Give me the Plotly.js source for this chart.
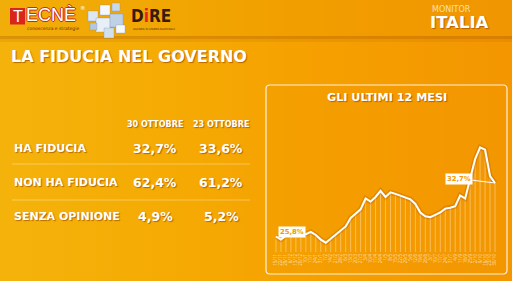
<!DOCTYPE html>
<html>
<head>
<meta charset="utf-8">
<script src="https://cdn.plot.ly/plotly-3.0.1.min.js"></script>
<style>
html,body{margin:0;padding:0;}
body{width:512px;height:281px;overflow:hidden;
background:linear-gradient(90deg,#F4B30B 0%,#F5AA03 35%,#F59F00 65%,#F39600 100%);}
#chart{width:512px;height:281px;}
</style>
</head>
<body>
<div id="chart"></div>
<script>
// ---- data ----
const rowLabels = ['HA FIDUCIA', 'NON HA FIDUCIA', 'SENZA OPINIONE'];
const colLabels = ['30 OTTOBRE', '23 OTTOBRE'];
const val30 = [32.7, 62.4, 4.9];
const val23 = [33.6, 61.2, 5.2];

const weekLabels = ['15/11','22/11','29/11','6/12','13/12','20/12','10/1','17/1','24/1','31/1',
  '7/2','14/2','21/2','28/2','6/3','13/3','20/3','27/3','3/4','10/4','17/4','24/4','1/5','8/5',
  '15/5','22/5','29/5','5/6','12/6','19/6','26/6','3/7','10/7','17/7','24/7','31/7','4/9','11/9',
  '18/9','25/9','2/10','9/10','16/10','23/10','30/10'];
const trust = [25.8,25.4,25.9,26.2,26.2,26.1,26.1,26.4,26.0,25.4,25.0,25.5,26.1,26.5,27.1,28.2,
  28.8,29.3,30.7,30.3,30.9,31.7,30.9,31.5,31.3,31.1,30.9,30.6,30.0,28.9,28.4,28.3,28.6,28.9,
  29.4,29.5,29.7,31.1,30.7,33.1,35.8,37.3,37.0,33.6,32.7];

// ---- helpers ----
const W = 512, H = 281;
const px = x => x / W;
const py = y => 1 - y / H;
const fmt = v => v.toFixed(1).replace('.', ',') + '%';
const FONT = 'DejaVu Sans, Open Sans, sans-serif';
const SHADOW = '1px 1px 1px rgba(140,60,0,0.6)';

const idx = trust.map((_, i) => i);
const yMin = 23.8, yMax = 38.25;

// drop lines
const dx = [], dy = [];
idx.forEach(i => { dx.push(i, i, null); dy.push(yMin, trust[i], null); });

const traces = [
  {x: dx, y: dy, mode: 'lines', type: 'scatter', hoverinfo: 'skip',
   line: {color: 'rgba(255,255,255,0.45)', width: 0.8}},
  {x: idx, y: trust, mode: 'lines', type: 'scatter', hoverinfo: 'skip',
   line: {color: 'rgba(150,70,0,0.22)', width: 5}},
  {x: idx, y: trust, mode: 'lines', type: 'scatter', hoverinfo: 'skip',
   line: {color: '#FFFFFF', width: 2}}
];

const ann = [];
function A(text, x, y, o) {
  o = o || {};
  ann.push(Object.assign({
    text: text, xref: 'paper', yref: 'paper', x: px(x), y: py(y),
    xanchor: o.xa || 'left', yanchor: 'middle', showarrow: false,
    font: {family: o.family || FONT, size: o.size || 10, color: o.color || '#FFFFFF',
           weight: o.weight || 700, shadow: o.shadow || 'none'}
  }, o.extra || {}));
}

// header logos
A('T', 17.5, 16, {xa: 'center', size: 16, family: 'Liberation Sans, Arial', weight: 400});
A('ECNÈ', 24, 15, {size: 18, family: 'Liberation Sans, Arial', weight: 400,
  shadow: '1px 0 0 #C8281E, -1px 0 0 #C8281E, 0 1px 0 #C8281E, 0 -1px 0 #C8281E'});
A('®', 78, 8, {size: 5.5, weight: 400});
A('conoscenza e strategie', 25, 28, {size: 4.5, color: '#7A2A10', weight: 400});
A('D<span style="color:#E52421">i</span>RE', 129, 16, {size: 17,
  family: 'DejaVu Sans Condensed, DejaVu Sans', color: '#3A1A0E', weight: 700});
A('AGENZIA DI STAMPA NAZIONALE', 131, 29, {size: 2.6, color: '#5A2A10', weight: 400});
A('MONITOR', 430, 9.5, {size: 8, color: 'rgba(255,255,255,0.7)', weight: 400});
A('ITALIA', 428, 23, {size: 16.5, weight: 700, shadow: SHADOW});

// title
A('LA FIDUCIA NEL GOVERNO', 9, 56, {size: 16, shadow: SHADOW});

// table
const colX = [155, 221];
const rowY = [148, 182, 216];
colLabels.forEach((c, j) => A(c, colX[j], 124, {xa: 'center', size: 8, shadow: SHADOW}));
rowLabels.forEach((r, i) => {
  A(r, 12, rowY[i], {size: 11, shadow: SHADOW});
  A(fmt(val30[i]), colX[0], rowY[i], {xa: 'center', size: 12.5, shadow: SHADOW});
  A(fmt(val23[i]), colX[1], rowY[i], {xa: 'center', size: 12.5, shadow: SHADOW});
});

// chart title
A('GLI ULTIMI 12 MESI', 387, 97, {xa: 'center', size: 11.2, shadow: SHADOW});

// point labels
const first = 0, last = trust.length - 1;
ann.push({text: fmt(trust[first]), xref: 'x', yref: 'y', x: first, y: trust[first],
  xshift: 16, yshift: 5, showarrow: false, bgcolor: '#FFFFFF', borderpad: 1,
  font: {family: FONT, size: 6.8, color: '#F39A00', weight: 700}});
ann.push({text: fmt(trust[last]), xref: 'x', yref: 'y', x: last, y: trust[last],
  ax: -36, ay: -4.5, showarrow: true, arrowhead: 0, arrowwidth: 1, arrowcolor: '#FFFFFF',
  standoff: 0, bgcolor: '#FFFFFF', borderpad: 1,
  font: {family: FONT, size: 6.8, color: '#F39A00', weight: 700}});

// shapes
const r = 4, L = 266, T = 85, R = 507, B = 274;
const box = `M ${px(L + r)} ${py(T)} L ${px(R - r)} ${py(T)} Q ${px(R)} ${py(T)} ${px(R)} ${py(T + r)} ` +
  `L ${px(R)} ${py(B - r)} Q ${px(R)} ${py(B)} ${px(R - r)} ${py(B)} L ${px(L + r)} ${py(B)} ` +
  `Q ${px(L)} ${py(B)} ${px(L)} ${py(B - r)} L ${px(L)} ${py(T + r)} Q ${px(L)} ${py(T)} ${px(L + r)} ${py(T)} Z`;

const shapes = [
  // header band
  {type: 'rect', xref: 'paper', yref: 'paper', x0: 0, x1: 1, y0: py(37), y1: 1,
   fillcolor: 'rgba(230,150,0,0.18)', line: {width: 0}, layer: 'below'},
  {type: 'rect', xref: 'paper', yref: 'paper', x0: 0, x1: 1, y0: py(39), y1: py(36),
   fillcolor: 'rgba(150,70,0,0.28)', line: {width: 0}, layer: 'below'},
  {type: 'rect', xref: 'paper', yref: 'paper', x0: 0, x1: 1, y0: py(42), y1: py(39),
   fillcolor: 'rgba(150,70,0,0.10)', line: {width: 0}, layer: 'below'},
  // red T box
  {type: 'rect', xref: 'paper', yref: 'paper', x0: px(10), x1: px(25), y0: py(24.5), y1: py(8),
   fillcolor: '#D8261C', line: {width: 0}},
  // cubes
  ...[[88,11,98,21,'#DCE7F2'],[100,5,110,15,'#F4F8FC'],[112,3,120,11,'#C9D9EA'],
      [96,18,110,32,'#E8EFF7'],[110,14,123,27,'#BFD1E5'],[104,28,114,38,'#D2E0EE'],
      [116,25,125,33,'#F7FAFD'],[90,23,97,30,'#B3C7DD']].map(c => ({
    type: 'rect', xref: 'paper', yref: 'paper', x0: px(c[0]), x1: px(c[2]), y0: py(c[3]), y1: py(c[1]),
    fillcolor: c[4], line: {color: 'rgba(120,140,170,0.6)', width: 0.5}})),
  // table separators
  {type: 'line', xref: 'paper', yref: 'paper', x0: px(12), x1: px(250), y0: py(164), y1: py(164),
   line: {color: 'rgba(255,255,255,0.35)', width: 1}},
  {type: 'line', xref: 'paper', yref: 'paper', x0: px(12), x1: px(250), y0: py(200), y1: py(200),
   line: {color: 'rgba(255,255,255,0.35)', width: 1}},
  // chart box
  {type: 'path', xref: 'paper', yref: 'paper', path: box,
   fillcolor: 'rgba(243,150,0,0.25)', line: {color: 'rgba(255,255,255,0.85)', width: 1.2}, layer: 'below'}
];

const layout = {
  width: W, height: H, margin: {l: 0, r: 0, t: 0, b: 0},
  paper_bgcolor: 'rgba(0,0,0,0)', plot_bgcolor: 'rgba(0,0,0,0)',
  showlegend: false,
  xaxis: {domain: [px(271), px(500)], range: [-1, 45], showgrid: false, zeroline: false,
    showline: false, ticks: '', tickvals: idx, ticktext: weekLabels, tickangle: -90,
    tickfont: {family: 'Open Sans, sans-serif', size: 4.5, color: 'rgba(255,255,255,0.7)'},
    automargin: false, fixedrange: true},
  yaxis: {domain: [py(252), py(140)], range: [yMin, yMax], visible: false, fixedrange: true},
  annotations: ann,
  shapes: shapes
};

Plotly.newPlot('chart', traces, layout, {staticPlot: true, displayModeBar: false});
</script>
</body>
</html>
